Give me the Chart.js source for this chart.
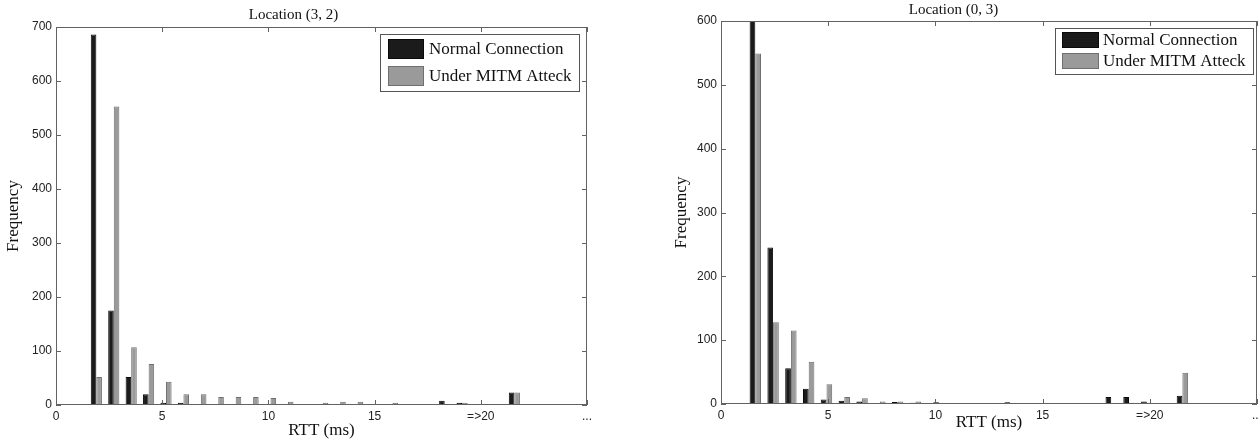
<!DOCTYPE html>
<html>
<head>
<meta charset="utf-8">
<script src="https://cdn.jsdelivr.net/npm/chart.js@4.4.1/dist/chart.umd.min.js"></script>
<style>
  html, body { margin: 0; padding: 0; background: #fff; overflow: hidden; }
  body { width: 1258px; height: 444px; position: relative; }
  .panel { position: absolute; top: 0; height: 444px; }
  #left { left: 0; width: 610px; }
  #right { left: 650px; width: 620px; }
</style>
</head>
<body>
<div class="panel" id="left"><canvas id="chartLeft"></canvas></div>
<div class="panel" id="right"><canvas id="chartRight"></canvas></div>
<script>
// data
const seriesNames = ["Normal Connection", "Under MITM Atteck"];
const xTickLabels = { 0: "0", 5: "5", 10: "10", 15: "15", 20: "=>20", 25: "..." };

const binsLeft = [1.9, 2.72, 3.54, 4.36, 5.18, 6.0, 6.82, 7.64, 8.46, 9.28, 10.1, 10.92, 11.74,
  12.56, 13.38, 14.2, 15.02, 15.84, 16.66, 17.48, 18.3, 19.12, 19.94, 20.76, 21.58];
const normalLeft = [686, 175, 52, 20, 4, 4, 2, 0, 0, 0, 0, 2, 1, 1, 2, 0, 2, 0, 1, 1, 8, 4, 2, 0, 23];
const mitmLeft = [52, 553, 107, 76, 43, 20, 20, 15, 15, 15, 13, 6, 0, 4, 6, 6, 1, 4, 0, 1, 0, 4, 1, 0, 23];

const binsRight = [1.6, 2.43, 3.26, 4.09, 4.92, 5.75, 6.58, 7.41, 8.24, 9.07, 9.9, 10.73, 11.56,
  12.39, 13.22, 14.05, 14.88, 15.71, 16.54, 17.37, 18.2, 19.03, 19.86, 20.69, 21.52];
const normalRight = [640, 245, 56, 24, 7, 5, 4, 0, 3, 2, 0, 0, 1, 1, 0, 1, 1, 1, 1, 1, 11, 11, 4, 0, 13];
const mitmRight = [549, 128, 115, 66, 31, 11, 9, 4, 4, 4, 3, 0, 1, 1, 3, 0, 0, 0, 0, 0, 1, 2, 2, 0, 49];

const SERIF = "'Liberation Serif', 'Times New Roman', serif";
const SANS = "'Liberation Sans', Arial, sans-serif";
const fills = ["#1b1b1b", "#9a9a9a"];
const edges = ["#0a0a0a", "#6f6f6f"];

// box round the plot, inward ticks, legend inside the plot
const framePlugin = {
  id: 'frame',
  afterDatasetsDraw(chart, args, opts) {
    const { ctx, chartArea: a } = chart;
    const x = chart.scales.x, y = chart.scales.y;
    ctx.save();
    ctx.strokeStyle = '#626262';
    ctx.lineWidth = 1;
    ctx.strokeRect(a.left + 0.5, a.top + 0.5, a.width - 1, a.height - 1);
    ctx.beginPath();
    x.ticks.forEach(t => {
      const px = Math.round(x.getPixelForValue(t.value)) + 0.5;
      ctx.moveTo(px, a.bottom); ctx.lineTo(px, a.bottom - 5);
      ctx.moveTo(px, a.top); ctx.lineTo(px, a.top + 5);
    });
    y.ticks.forEach(t => {
      const py = Math.round(y.getPixelForValue(t.value)) + 0.5;
      ctx.moveTo(a.left, py); ctx.lineTo(a.left + 5, py);
      ctx.moveTo(a.right, py); ctx.lineTo(a.right - 5, py);
    });
    ctx.stroke();

    const lg = opts.legend;
    const bx = a.right - lg.right - lg.width;
    const by = a.top + lg.top;
    ctx.fillStyle = '#fff';
    ctx.fillRect(bx, by, lg.width, lg.height);
    ctx.strokeStyle = '#555';
    ctx.strokeRect(bx + 0.5, by + 0.5, lg.width, lg.height);
    ctx.font = lg.fontSize + 'px ' + SERIF;
    ctx.textBaseline = 'middle';
    chart.data.datasets.forEach((ds, i) => {
      const sy = by + lg.rows[i];
      ctx.fillStyle = ds.backgroundColor;
      ctx.fillRect(bx + lg.swX, sy, lg.swW, lg.swH);
      ctx.strokeStyle = ds.borderColor;
      ctx.strokeRect(bx + lg.swX + 0.5, sy + 0.5, lg.swW - 1, lg.swH - 1);
      ctx.fillStyle = '#111';
      ctx.fillText(ds.label, bx + lg.textX, sy + lg.swH / 2 + 1);
    });
    ctx.restore();
  }
};

function makeChart(id, p) {
  const datasets = [p.normal, p.mitm].map((vals, i) => ({
    label: seriesNames[i],
    data: p.bins.map((b, k) => ({ x: b, y: vals[k] })),
    backgroundColor: fills[i],
    borderColor: edges[i],
    borderWidth: 1,
    categoryPercentage: 0.64,
    barPercentage: 1.0
  }));
  return new Chart(document.getElementById(id), {
    type: 'bar',
    data: { datasets },
    options: {
      responsive: true,
      maintainAspectRatio: false,
      animation: false,
      layout: { padding: { left: 0, right: p.padRight, top: 0, bottom: 0 } },
      plugins: {
        legend: { display: false },
        tooltip: { enabled: false },
        title: {
          display: true,
          text: p.title,
          color: '#111',
          font: { family: SERIF, size: 15, weight: 'normal' },
          padding: p.titlePad
        },
        frame: { legend: p.legend }
      },
      scales: {
        x: {
          type: 'linear',
          min: 0, max: 25,
          offset: false,
          grid: { display: false, offset: false, drawTicks: false },
          border: { display: false },
          ticks: {
            stepSize: 5, autoSkip: false, maxRotation: 0, padding: 4,
            color: '#222', font: { family: SANS, size: 12 },
            callback: v => xTickLabels[v] ?? ''
          },
          title: {
            display: true, text: 'RTT (ms)', color: '#111',
            font: { family: SERIF, size: 17 },
            padding: { top: 0, bottom: p.xTitleBottom }
          },
          afterFit: s => { s.height = p.xAxisH; }
        },
        y: {
          min: 0, max: p.yMax,
          grid: { display: false, drawTicks: false },
          border: { display: false },
          ticks: {
            stepSize: 100, padding: 4,
            color: '#222', font: { family: SANS, size: 12 }
          },
          title: {
            display: true, text: 'Frequency', color: '#111',
            font: { family: SERIF, size: 17 },
            padding: { top: p.yTitleLeft, bottom: 0 }
          },
          afterFit: s => { s.width = p.yAxisW; }
        }
      }
    },
    plugins: [framePlugin]
  });
}

makeChart('chartLeft', {
  title: 'Location (3, 2)',
  bins: binsLeft, normal: normalLeft, mitm: mitmLeft,
  yMax: 700, yAxisW: 56, xAxisH: 39, padRight: 23,
  titlePad: { top: 6, bottom: 3 },
  xTitleBottom: 3, yTitleLeft: 3,
  legend: { right: 8, top: 7, width: 199, height: 57, swX: 8, swW: 36, swH: 20,
            rows: [5, 32], textX: 49, fontSize: 17 }
});

makeChart('chartRight', {
  title: 'Location (0, 3)',
  bins: binsRight, normal: normalRight, mitm: mitmRight,
  yMax: 600, yAxisW: 71, xAxisH: 40, padRight: 13,
  titlePad: { top: 1, bottom: 2 },
  xTitleBottom: 11, yTitleLeft: 21,
  legend: { right: 4, top: 7, width: 198, height: 46, swX: 7, swW: 37, swH: 16,
            rows: [4, 25], textX: 48, fontSize: 17 }
});
</script>
</body>
</html>
